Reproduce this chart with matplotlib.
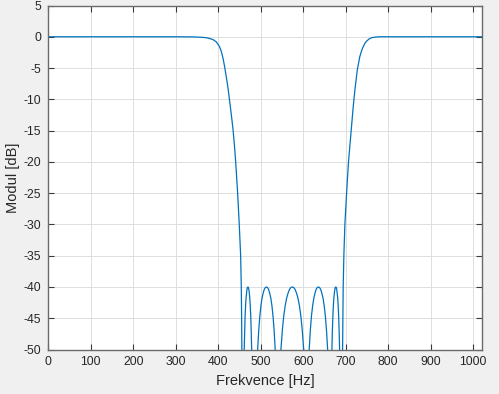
import matplotlib
matplotlib.use("Agg")
import matplotlib.pyplot as plt

# ---- data (frequency in Hz, magnitude in dB) ----
left_pass_f  = [0, 200, 300, 340, 352, 365, 376, 387.5, 395, 399, 403, 406, 409, 412, 415, 418, 421,
                424.5, 428, 431.5, 435, 438, 441, 445.6, 449.4, 452.7, 454.2, 455.0, 455.5, 457]
left_pass_db = [0, 0, 0, -0.02, -0.05, -0.1, -0.2, -0.45, -0.8, -1.15, -1.6, -2.1, -2.8, -3.7, -4.8, -6.0, -7.3,
                -9.0, -10.9, -12.9, -15.0, -17.3, -20, -25, -30, -35, -40, -45, -50, -60]

lobe_shape_db = [-50, -46.9, -44.6, -43.0, -41.8, -41.0, -40.4, -40.1, -40,
                 -40.1, -40.4, -41.0, -41.8, -43.0, -44.6, -46.9, -50]

lobe1_f = [461.0, 462.1, 463.2, 464.3, 465.4, 466.5, 467.6, 468.7, 469.8,
           470.9, 472.0, 473.1, 474.2, 475.3, 476.4, 477.5, 478.6]
lobe2_f = [492.7, 495.3, 497.9, 500.4, 503.0, 505.6, 508.2, 510.8, 513.4,
           515.9, 518.5, 521.1, 523.7, 526.3, 528.8, 531.4, 534.0]
lobe3_f = [547.5, 550.8, 554.2, 557.5, 560.9, 564.2, 567.6, 570.9, 574.3,
           577.6, 580.9, 584.3, 587.6, 591.0, 594.3, 597.7, 601.0]
lobe4_f = [614.0, 616.7, 619.4, 622.1, 624.9, 627.6, 630.3, 633.0, 635.7,
           638.4, 641.1, 643.8, 646.6, 649.3, 652.0, 654.7, 657.4]
lobe5_f = [667.5, 668.6, 669.8, 670.9, 672.0, 673.2, 674.3, 675.4, 676.6,
           677.7, 678.8, 679.9, 681.1, 682.2, 683.3, 684.4, 685.6]

notch_f  = [485.6, 541.0, 607.5, 662.5]   # zeros between lobes (below the axis)
notch_db = [-60, -60, -60, -60]

right_pass_f  = [689, 692.6, 693.2, 694.0, 695.6, 698, 702, 706.5, 713, 717.6, 721.6, 727, 733,
                 737, 741, 745, 749, 755, 761, 770, 780, 900, 1020]
right_pass_db = [-60, -50, -45, -40, -35, -30, -25, -20, -14.9, -11.2, -8.5, -5.4, -3.2,
                 -2.3, -1.6, -1.05, -0.7, -0.35, -0.15, -0.04, 0, 0, 0]

x_ticks = [0, 100, 200, 300, 400, 500, 600, 700, 800, 900, 1000]
y_ticks = [5, 0, -5, -10, -15, -20, -25, -30, -35, -40, -45, -50]
x_label = "Frekvence [Hz]"
y_label = "Modul [dB]"

# ---- assemble the curve in frequency order ----
lobes = [lobe1_f, lobe2_f, lobe3_f, lobe4_f, lobe5_f]
freq = list(left_pass_f)
mag = list(left_pass_db)
for i, lf in enumerate(lobes):
    freq += lf
    mag += lobe_shape_db
    if i < len(notch_f):
        freq.append(notch_f[i])
        mag.append(notch_db[i])
freq += right_pass_f
mag += right_pass_db

plt.rcParams['font.family'] = ['Liberation Sans', 'DejaVu Sans']
plt.rcParams['axes.unicode_minus'] = False

W, H = 499, 394
fig = plt.figure(figsize=(W / 100, H / 100), dpi=100, facecolor='#f0f0f0')
ax = fig.add_axes([48.3 / W, 1 - 349.5 / H, (481.7 - 48.3) / W, (349.5 - 5.5) / H])
ax.set_facecolor('white')

ax.plot(freq, mag, color='#0072BD', lw=0.9, solid_joinstyle='round')

ax.set_xlim(0, 1020)
ax.set_ylim(-50, 5)
ax.set_xticks(x_ticks)
ax.set_yticks(y_ticks)
ax.grid(True, color='#dedede', lw=0.7)
ax.set_axisbelow(True)
ax.tick_params(direction='in', length=4, width=0.8, color='#3a3a3a',
               top=True, right=True, labelsize=8.8, labelcolor='#262626')
ax.tick_params(axis='x', pad=5)
ax.tick_params(axis='y', pad=5)
for s in ax.spines.values():
    s.set_color('#6b6b6b')
    s.set_linewidth(1.0)

ax.set_xlabel(x_label, fontsize=10.5, color='#262626', labelpad=4)
ax.set_ylabel(y_label, fontsize=10.5, color='#262626', labelpad=3)

fig.savefig('out.png', dpi=100, facecolor=fig.get_facecolor())
